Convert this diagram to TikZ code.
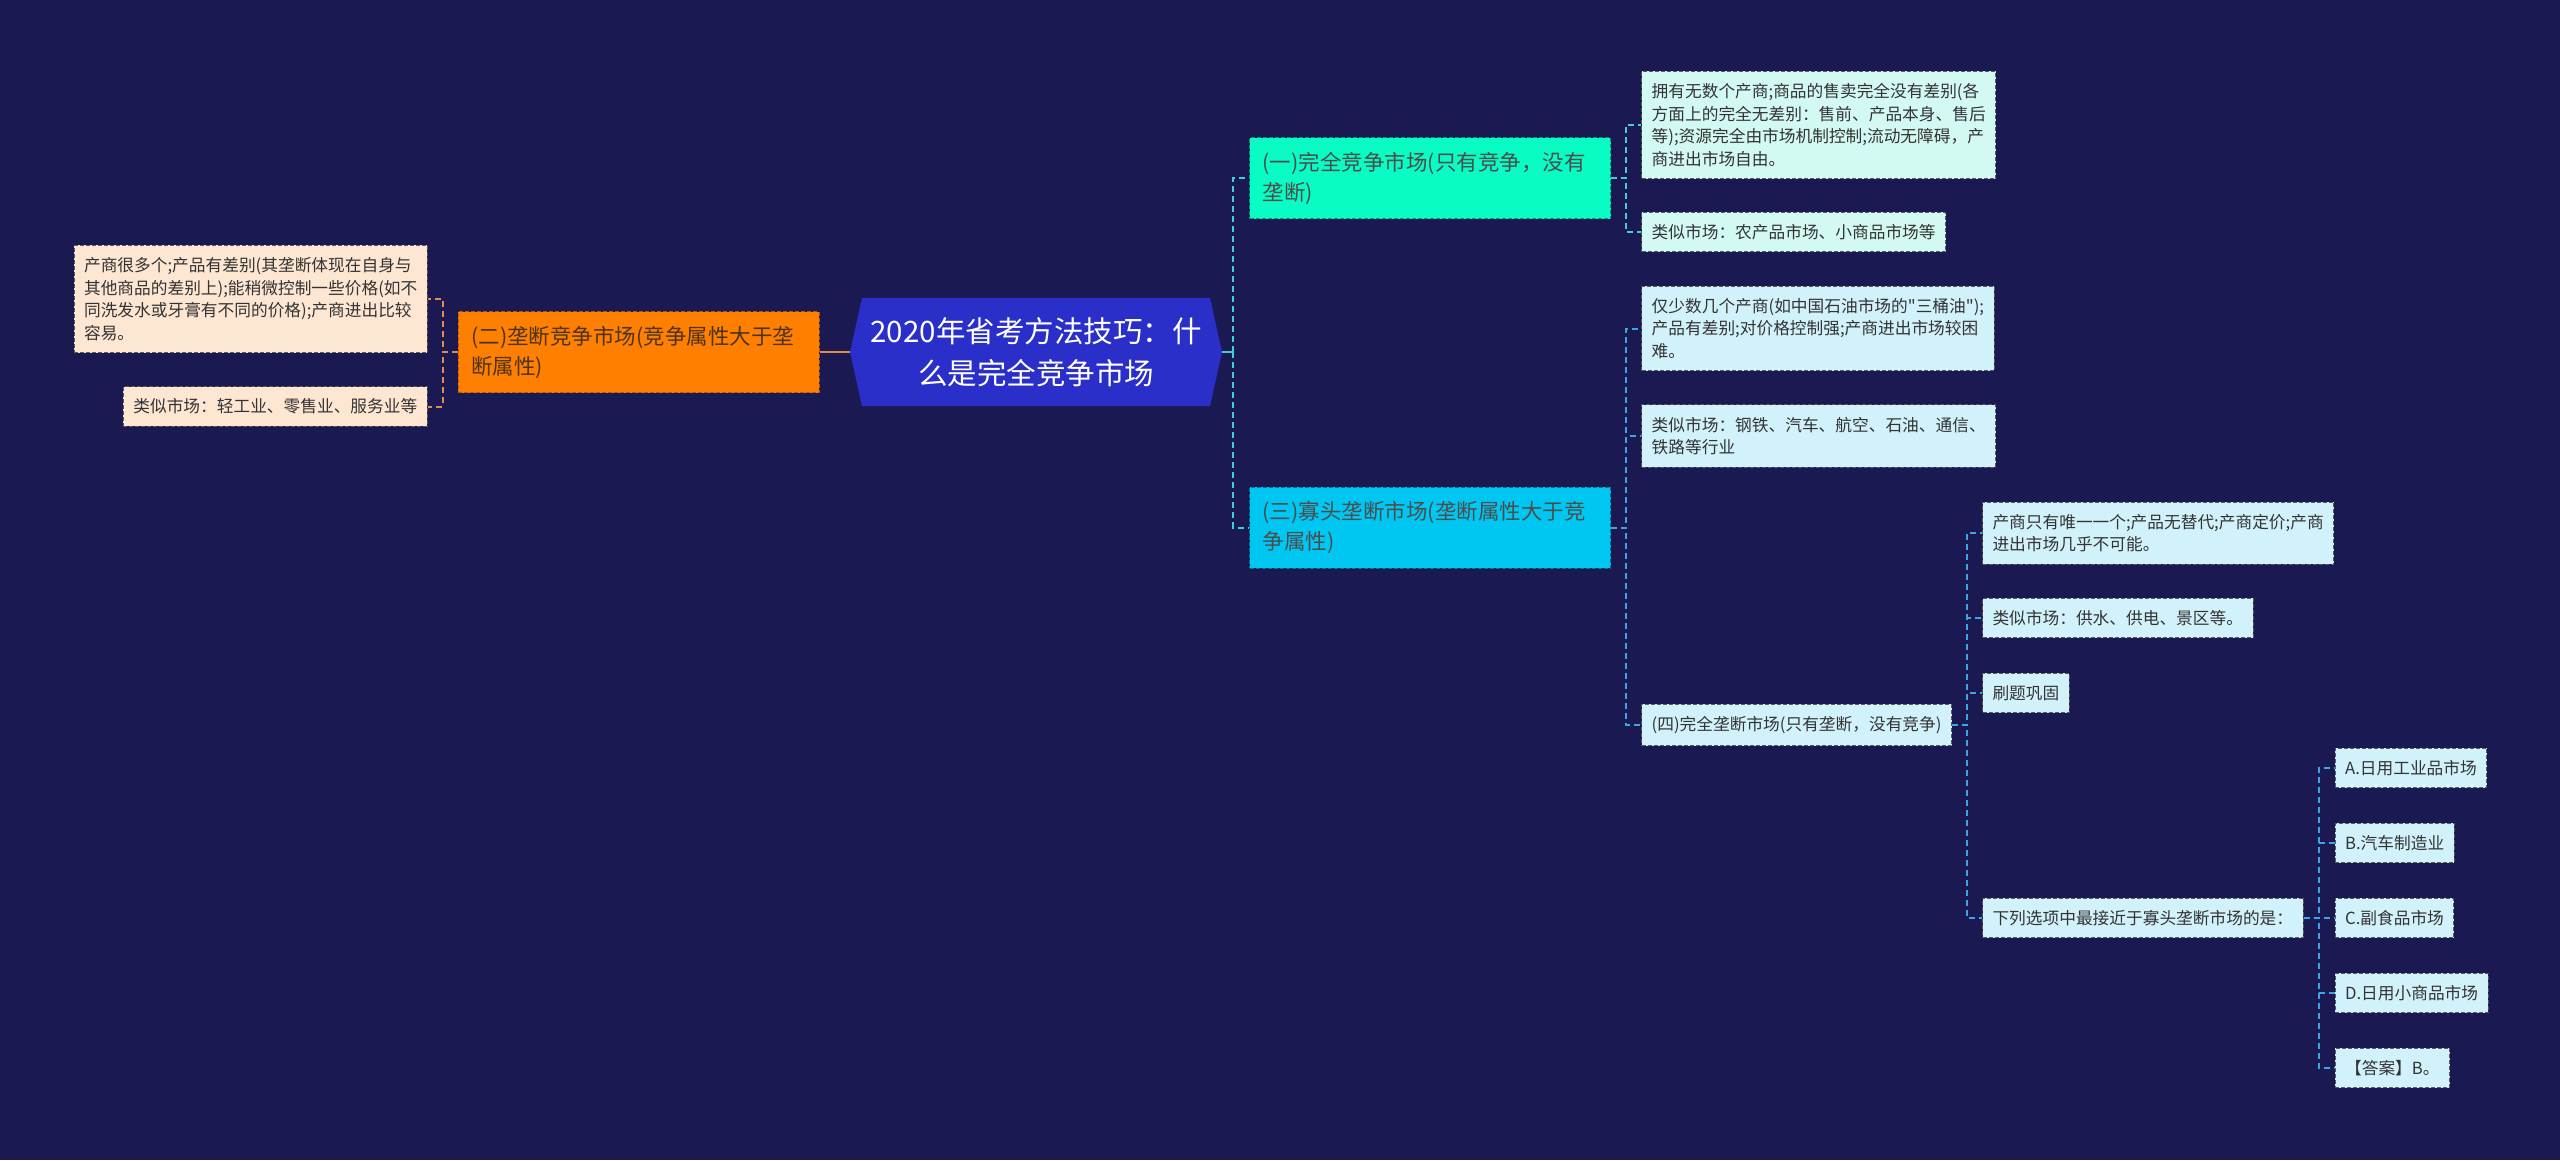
\documentclass[tikz,border=0pt]{standalone}
\usepackage{fontspec}
\setmainfont{Noto Sans CJK SC}[Ligatures=TeXOff]
\usetikzlibrary{positioning, shapes.symbols}
\definecolor{bgnavy}{HTML}{1B1951}
\definecolor{rootblue}{HTML}{2B2FC9}
\definecolor{mint}{HTML}{08FCC4}
\definecolor{tangerine}{HTML}{FF7F00}
\definecolor{sky}{HTML}{00C7F2}
\definecolor{palemint}{HTML}{D3FAF2}
\definecolor{palesky}{HTML}{D2F2FB}
\definecolor{peach}{HTML}{FDE6D2}
\definecolor{tealline}{HTML}{3ECFD8}
\definecolor{blueline}{HTML}{3AA6E3}
\definecolor{orangeline}{HTML}{E58A4A}

\begin{document}
\begin{tikzpicture}[x=1pt, y=-1pt,
  rootbox/.style={shape=signal, signal to=west and east, signal pointer angle=155, fill=rootblue, text=white, align=center, minimum width=372pt, minimum height=108pt, inner sep=4pt, font=\fontsize{29.5}{42}\selectfont},
  midbox/.style={draw, line width=1pt, dash pattern=on 4pt off 2pt, align=left, text width=335pt, minimum height=81pt, inner xsep=13pt, font=\fontsize{21.5}{30}\selectfont},
  leaf/.style={draw=black!65, line width=1pt, dash pattern=on 4pt off 2pt, align=left, inner xsep=10pt, inner ysep=12pt, text=black!80, font=\fontsize{16.7}{22.5}\selectfont},
  olink/.style={orangeline, line width=2pt, dash pattern=on 6pt off 4pt},
  tlink/.style={tealline, line width=2pt, dash pattern=on 6pt off 4pt},
  blink/.style={blueline, line width=2pt, dash pattern=on 6pt off 4pt}]
  \fill[bgnavy] (0,0) rectangle (2560,1160);
  % centre
  \node[rootbox] (root) at (1036,352) {2020年省考方法技巧：什\\么是完全竞争市场};
  % first level
  \node[midbox, fill=tangerine, draw=tangerine!70!black, text=black!60!brown, left=30pt of root] (m2) {(二)垄断竞争市场(竞争属性大于垄\\断属性)};
  \node[midbox, fill=mint, draw=mint!60!black, text=black!70, right=27pt of root, yshift=174pt] (m1) {(一)完全竞争市场(只有竞争，没有\\垄断)};
  \node[midbox, fill=sky, draw=sky!60!black, text=black!70, right=27pt of root, yshift=-175.5pt] (m3) {(三)寡头垄断市场(垄断属性大于竞\\争属性)};
  % left leaves
  \node[leaf, fill=peach, left=30pt of m2, yshift=53pt] (l1) {产商很多个;产品有差别(其垄断体现在自身与\\其他商品的差别上);能稍微控制一些价格(如不\\同洗发水或牙膏有不同的价格);产商进出比较\\容易。};
  \node[leaf, fill=peach, left=30pt of m2, yshift=-54.5pt] (l2) {类似市场：轻工业、零售业、服务业等};
  % leaves of (一)
  \node[leaf, fill=palemint, right=30pt of m1, yshift=53pt] (a1) {拥有无数个产商;商品的售卖完全没有差别(各\\方面上的完全无差别：售前、产品本身、售后\\等);资源完全由市场机制控制;流动无障碍，产\\商进出市场自由。};
  \node[leaf, fill=palemint, right=30pt of m1, yshift=-54pt] (a2) {类似市场：农产品市场、小商品市场等};
  % leaves of (三)
  \node[leaf, fill=palesky, right=30pt of m3, yshift=199pt] (c1) {仅少数几个产商(如中国石油市场的"三桶油");\\产品有差别;对价格控制强;产商进出市场较困\\难。};
  \node[leaf, fill=palesky, right=30pt of m3, yshift=91.5pt] (c2) {类似市场：钢铁、汽车、航空、石油、通信、\\铁路等行业};
  \node[leaf, fill=palesky, right=30pt of m3, yshift=-197.5pt] (c3) {(四)完全垄断市场(只有垄断，没有竞争)};
  % leaves of (四)
  \node[leaf, fill=palesky, right=30pt of c3, yshift=192pt] (d1) {产商只有唯一一个;产品无替代;产商定价;产商\\进出市场几乎不可能。};
  \node[leaf, fill=palesky, right=30pt of c3, yshift=107pt] (d2) {类似市场：供水、供电、景区等。};
  \node[leaf, fill=palesky, right=30pt of c3, yshift=32pt] (d3) {刷题巩固};
  \node[leaf, fill=palesky, right=30pt of c3, yshift=-193pt] (d4) {下列选项中最接近于寡头垄断市场的是：};
  % answer options
  \foreach \n/\dy/\t in {e1/150/A.日用工业品市场, e2/75/B.汽车制造业, e3/0/C.副食品市场, e4/-75/D.日用小商品市场, e5/-150/【答案】B。}
    \node[leaf, fill=palesky, right=31pt of d4, yshift=\dy pt] (\n) {\t};
  % connectors
  \coordinate (rj) at ([xshift=11pt]root.east);
  \draw[tealline, line width=2.5pt] (root.east) -- (rj);
  \draw[orangeline, line width=2.5pt] (root.west) -- (m2.east);
  \foreach \n in {m1,m3} \draw[tlink] (rj) |- (\n.west);
  \coordinate (j2) at ([xshift=-15pt]m2.west);
  \foreach \n in {l1,l2} \draw[olink] (m2.west) -- (j2) |- (\n.east);
  \coordinate (j1) at ([xshift=15pt]m1.east);
  \foreach \n in {a1,a2} \draw[tlink] (m1.east) -- (j1) |- (\n.west);
  \coordinate (j3) at ([xshift=15pt]m3.east);
  \foreach \n in {c1,c2,c3} \draw[blink] (m3.east) -- (j3) |- (\n.west);
  \coordinate (j4) at ([xshift=15pt]c3.east);
  \foreach \n in {d1,d2,d3,d4} \draw[blink] (c3.east) -- (j4) |- (\n.west);
  \coordinate (j5) at ([xshift=15pt]d4.east);
  \foreach \n in {e1,e2,e3,e4,e5} \draw[blink] (d4.east) -- (j5) |- (\n.west);
\end{tikzpicture}
\end{document}
